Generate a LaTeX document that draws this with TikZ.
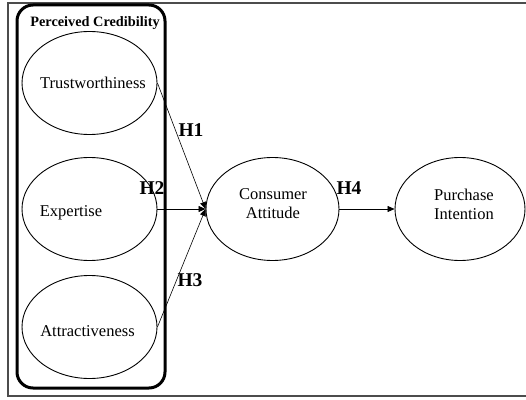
\documentclass[tikz,border=0pt]{standalone}
\usepackage{fontspec}
\setmainfont{Liberation Serif}
\usetikzlibrary{arrows.meta, shapes.geometric}

\tikzset{
  construct/.style={draw, ellipse, line width=0.9pt, minimum width=135pt, minimum height=103pt, inner sep=0pt},
  body/.style={font=\fontsize{16.5}{19}\selectfont, align=center},
  hyp/.style={font=\fontsize{19.5}{22}\selectfont\bfseries, inner sep=0pt},
  path/.style={line width=0.6pt, -{Triangle[length=7pt,width=6pt]}}
}

\begin{document}
\begin{tikzpicture}[x=1pt, y=1pt]
  \useasboundingbox (0,0) rectangle (526,399);
  % Outer frame (runs off the right edge).
  \draw[gray!60!black, line width=1.3pt] (8,3) rectangle (540,396);
  % Perceived credibility group.
  \draw[line width=3pt, rounded corners=16pt] (17,11) rectangle (165,394);
  \node[font=\fontsize{14.3}{16}\selectfont\bfseries] (group) at (95,376) {Perceived Credibility};
  % Source dimensions.
  \node[construct] (trust)   at (89.5,316) {};
  \node[construct] (expert)  at (89.5,190) {};
  \node[construct] (attract) at (89.5,72)  {};
  \node[body] (trustlbl)   at (93,316) {Trustworthiness};
  \node[body] (expertlbl)  at (71,186) {Expertise};
  \node[body] (attractlbl) at (87.5,68) {Attractiveness};
  % Outcomes.
  \node[construct, minimum width=133pt] (attitude) at (272.5,190) {};
  \node[construct, minimum width=130pt] (intent)   at (460,190)   {};
  \node[body] (attitudelbl) at (273,195) {Consumer\\Attitude};
  \node[body] (intentlbl)   at (464,195) {Purchase\\Intention};
  % Hypothesised paths.
  \draw[path] (trust.east)   -- (attitude.west);
  \draw[path] (expert.east)  -- (attitude.west);
  \draw[path] (attract.east) -- (attitude.west);
  \draw[path] (attitude.east) -- (intent.west);
  \node[hyp] (h1) at (191,269) {H1};
  \node[hyp] (h2) at (152,211) {H2};
  \node[hyp] (h3) at (190,119) {H3};
  \node[hyp] (h4) at (349,211) {H4};
\end{tikzpicture}
\end{document}
